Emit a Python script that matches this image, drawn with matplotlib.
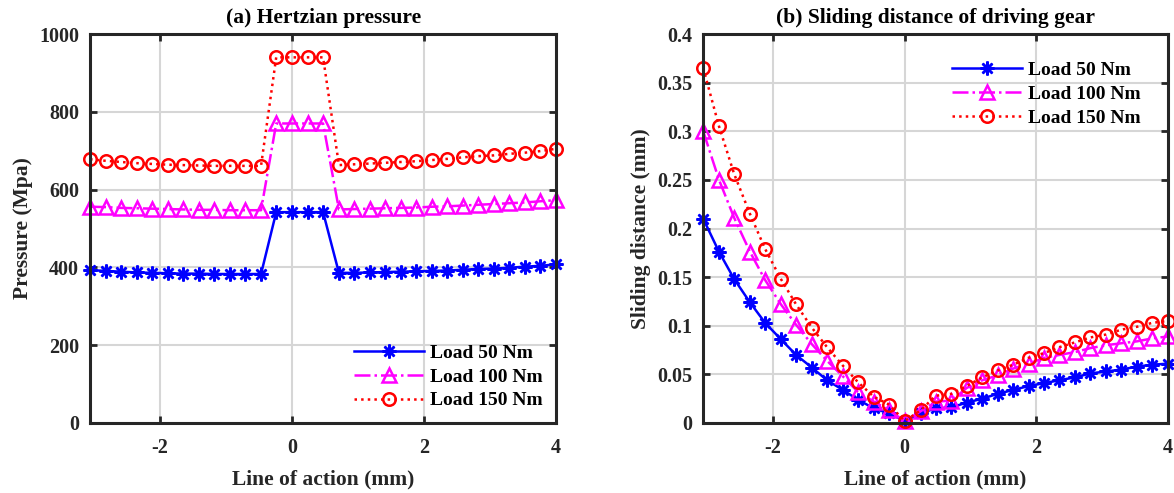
import numpy as np
import matplotlib
matplotlib.use('Agg')
import matplotlib.pyplot as plt
from matplotlib.ticker import FuncFormatter

matplotlib.rc('font', family='Liberation Serif', weight='bold', size=14)
matplotlib.rcParams['axes.unicode_minus'] = False
matplotlib.rcParams['axes.labelweight'] = 'bold'

# line of action positions (mm), same for both panels
x = [-3.06, -2.82, -2.59, -2.35, -2.12, -1.88, -1.65, -1.41, -1.18, -0.94, -0.71,
     -0.47, -0.24, 0.0, 0.24, 0.47, 0.71, 0.94, 1.18, 1.41, 1.65, 1.88, 2.12,
     2.35, 2.59, 2.82, 3.06, 3.29, 3.53, 3.76, 4.0]

labels = ['Load 50 Nm', 'Load 100 Nm', 'Load 150 Nm']

# (a) Hertzian pressure (MPa)
p50 = [393, 391, 389, 387, 386, 385, 384, 384, 383, 383, 383, 383,
       542, 542, 542, 542,
       386, 386, 387, 388, 389, 390, 391, 392, 394, 396, 397, 399, 402, 404, 408]
p100 = [556, 555, 553, 552, 551, 550, 549, 548, 548, 547, 547, 547,
        770, 770, 770, 770,
        549, 550, 551, 552, 553, 554, 556, 557, 559, 561, 563, 565, 567, 570, 573]
p150 = [678, 674, 671, 668, 666, 664, 663, 662, 661, 661, 661, 661,
        940, 940, 940, 940,
        663, 665, 667, 669, 671, 673, 676, 679, 683, 686, 688, 692, 695, 699, 705]

# (b) sliding distance of driving gear (mm)
s50 = [0.210, 0.176, 0.148, 0.124, 0.103, 0.086, 0.070, 0.057, 0.044, 0.034, 0.024,
       0.015, 0.010, 0.002, 0.010, 0.015, 0.016, 0.021, 0.025, 0.030, 0.034, 0.038,
       0.041, 0.044, 0.047, 0.051, 0.053, 0.055, 0.058, 0.060, 0.061]
s100 = [0.300, 0.250, 0.211, 0.176, 0.147, 0.122, 0.101, 0.081, 0.064, 0.048, 0.032,
        0.022, 0.013, 0.002, 0.012, 0.022, 0.023, 0.036, 0.044, 0.049, 0.056, 0.061,
        0.067, 0.070, 0.073, 0.077, 0.080, 0.082, 0.084, 0.087, 0.089]
s150 = [0.365, 0.305, 0.256, 0.215, 0.179, 0.148, 0.122, 0.098, 0.078, 0.059, 0.042,
        0.027, 0.019, 0.002, 0.013, 0.028, 0.030, 0.038, 0.047, 0.054, 0.060, 0.067,
        0.072, 0.078, 0.083, 0.088, 0.091, 0.096, 0.099, 0.103, 0.105]

# MATLAB-like asterisk: 8 arms
styles = [dict(color='blue', ls='-', marker=(8, 2, 0), ms=10),
          dict(color='magenta', ls='-.', marker='^', ms=10),
          dict(color='red', ls=':', marker='o', ms=9)]


def style_axes(ax):
    ax.grid(True, color='#d6d6d6', lw=1.5)
    ax.set_axisbelow(True)
    for sp in ax.spines.values():
        sp.set_linewidth(2.2)
        sp.set_color('#262626')
    ax.tick_params(direction='in', length=5, width=2, top=True, right=True,
                   colors='#262626', labelcolor='#262626', labelsize=14.5, pad=8)
    ax.tick_params(axis='x', pad=11)
    ax.set_xlim(-3.06, 4)
    ax.set_xticks([-2, 0, 2, 4])
    ax.set_xlabel('Line of action (mm)', fontsize=15.5, color='#262626', labelpad=8)


fig = plt.figure(figsize=(11.74, 4.93), dpi=100)
ax1 = fig.add_axes([0.0767, 0.142, 0.397, 0.789])
ax2 = fig.add_axes([0.599, 0.142, 0.396, 0.789])

for y, lab, st in zip([p50, p100, p150], labels, styles):
    ax1.plot(x, y, label=lab, lw=1.8, mfc='none', mew=1.8, clip_on=False, **st)
for y, lab, st in zip([s50, s100, s150], labels, styles):
    ax2.plot(x, y, label=lab, lw=1.8, mfc='none', mew=1.8, clip_on=False, **st)

style_axes(ax1)
ax1.set_ylim(0, 1000)
ax1.set_yticks(range(0, 1001, 200))
ax1.set_ylabel('Pressure (Mpa)', fontsize=15.5, color='#262626')
ax1.set_title('(a) Hertzian pressure', fontsize=15.5, fontweight='bold', pad=8)
ax1.legend(loc='lower right', frameon=False, handlelength=3.6, fontsize=14,
           borderaxespad=0.3, labelspacing=0.32, handletextpad=0.3)

style_axes(ax2)
ax2.set_ylim(0, 0.4)
ax2.set_yticks(np.arange(0, 0.41, 0.05))
ax2.yaxis.set_major_formatter(FuncFormatter(lambda v, p: '%g' % round(v, 2)))
ax2.set_ylabel('Sliding distance (mm)', fontsize=15.5, color='#262626')
ax2.set_title('(b) Sliding distance of driving gear', fontsize=15.5, fontweight='bold', pad=8)
ax2.legend(loc='upper right', frameon=False, handlelength=3.6, fontsize=14,
           borderaxespad=1.0, labelspacing=0.32, handletextpad=0.3)

fig.savefig('out.png', dpi=100)
